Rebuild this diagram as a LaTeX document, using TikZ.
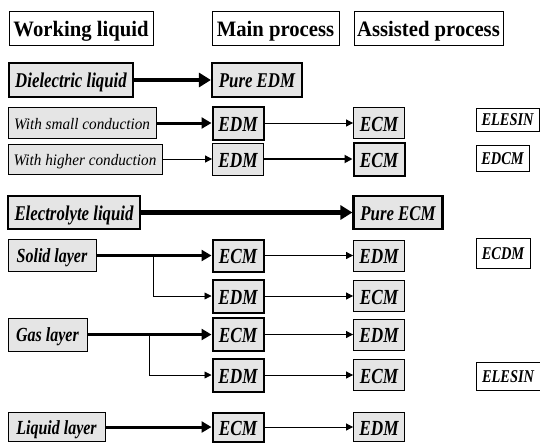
\documentclass[tikz,border=0pt]{standalone}
\usepackage{fontspec}
\setmainfont{Liberation Serif}
\newfontfamily\hdrfont[FakeStretch=0.94]{Liberation Serif}
\newfontfamily\subfont[FakeStretch=0.95]{Liberation Serif}
\newfontfamily\bifont[FakeStretch=0.8]{Liberation Serif}
\usetikzlibrary{arrows.meta}

\tikzset{
  box/.style={draw,line width=.8pt,inner sep=0pt,text depth=0pt},
  hdr/.style={box,fill=white,minimum height=34,text height=17pt,font=\hdrfont\fontsize{22}{22}\selectfont\bfseries},
  liq/.style={box,line width=2.2pt,fill=gray!20,minimum height=34,text height=15pt,font=\bifont\fontsize{21}{21}\selectfont\bfseries\itshape},
  sub/.style={box,fill=gray!20,minimum height=31,text height=12pt,font=\subfont\fontsize{16}{16}\selectfont\itshape},
  layer/.style={box,fill=gray!20,text height=14.5pt,font=\bifont\fontsize{20}{20}\selectfont\bfseries\itshape},
  proc/.style={box,fill=gray!20,minimum width=51,minimum height=31,text height=16pt,font=\bifont\fontsize{21.5}{21.5}\selectfont\bfseries\itshape},
  mainproc/.style={proc,line width=2pt},
  side/.style={box,fill=white,text height=12.5pt,font=\bifont\fontsize{18}{18}\selectfont\bfseries\itshape},
  big/.style={line width=4.5pt,-{Triangle[length=12pt,width=14pt]}},
  wide/.style={line width=3pt,-{Triangle[length=10pt,width=11pt]}},
  mid/.style={line width=1.8pt,-{Triangle[length=8pt,width=8pt]}},
  small/.style={line width=.8pt,-{Triangle[length=7pt,width=7pt]}},
}

\begin{document}
\begin{tikzpicture}[x=1pt,y=-1pt]
\useasboundingbox (0,0) rectangle (540,442);

% column titles
\node[name=hw,hdr,minimum width=144] at (81,28) {Working liquid};
\node[name=hm,hdr,minimum width=127] at (275.5,28) {Main process};
\node[name=ha,hdr,minimum width=149] at (428.5,28) {Assisted process};

% dielectric liquid
\node[name=dl,liq,minimum width=124] at (71,80) {Dielectric liquid};
\node[name=pedm,liq,minimum width=90] at (257,80) {Pure EDM};
\node[name=wsc,sub,minimum width=148] at (82,123) {With small conduction};
\node[name=e1,mainproc,minimum height=33] at (238,123) {EDM};
\node[name=c1,proc] at (379,123) {ECM};
\node[name=s1,side,minimum width=63,minimum height=23] at (507.5,119.5) {ELESIN};
\node[name=whc,sub,minimum width=154,minimum height=30] at (85,159) {With higher conduction};
\node[name=e2,proc,minimum height=32] at (238,159) {EDM};
\node[name=c2,mainproc,minimum height=33] at (379,159) {ECM};
\node[name=s2,side,minimum width=53,minimum height=26] at (502.5,158) {EDCM};

% electrolyte liquid
\node[name=el,liq,minimum width=132,minimum height=33] at (74,212.5) {Electrolyte liquid};
\node[name=pecm,liq,minimum width=89,minimum height=33] at (398,212.5) {Pure ECM};
\node[name=sl,layer,minimum width=88,minimum height=32] at (52,255.5) {Solid layer};
\node[name=c3,mainproc,minimum height=32] at (238,255.5) {ECM};
\node[name=d3,proc,minimum height=31] at (379,255.5) {EDM};
\node[name=s3,side,minimum width=54,minimum height=30] at (503,253) {ECDM};
\node[name=d4,mainproc,minimum height=33] at (238,296) {EDM};
\node[name=c4,proc,minimum height=31] at (379,296) {ECM};
\node[name=gl,layer,minimum width=79,minimum height=33] at (47.5,334.5) {Gas layer};
\node[name=c5,mainproc,minimum height=33] at (238,334.5) {ECM};
\node[name=d5,proc,minimum height=31] at (379,334.5) {EDM};
\node[name=d6,mainproc,minimum height=33] at (238,375) {EDM};
\node[name=c6,proc,minimum height=31] at (379,375) {ECM};
\node[name=s4,side,minimum width=64,minimum height=28] at (508,376) {ELESIN};
\node[name=ll,layer,minimum width=97,minimum height=29] at (56.5,427) {Liquid layer};
\node[name=c7,mainproc,minimum height=29] at (238,427) {ECM};
\node[name=d7,proc,minimum height=29] at (379,427) {EDM};

\coordinate (sb) at (153,255.5);
\coordinate (gb) at (149,334.5);

\draw[big] (dl) to (pedm);
\draw[wide] (wsc) to (e1);
\draw[small] (e1) to (c1);
\draw[small] (whc) to (e2);
\draw[mid] (e2) to (c2);
\draw[big] (el) to (pecm);
\draw[wide] (sl) to (c3);
\draw[small] (sb) |- (d4);
\draw[small] (c3) to (d3);
\draw[small] (d4) to (c4);
\draw[wide] (gl) to (c5);
\draw[small] (gb) |- (d6);
\draw[small] (c5) to (d5);
\draw[small] (d6) to (c6);
\draw[wide] (ll) to (c7);
\draw[small] (c7) to (d7);
\end{tikzpicture}
\end{document}
